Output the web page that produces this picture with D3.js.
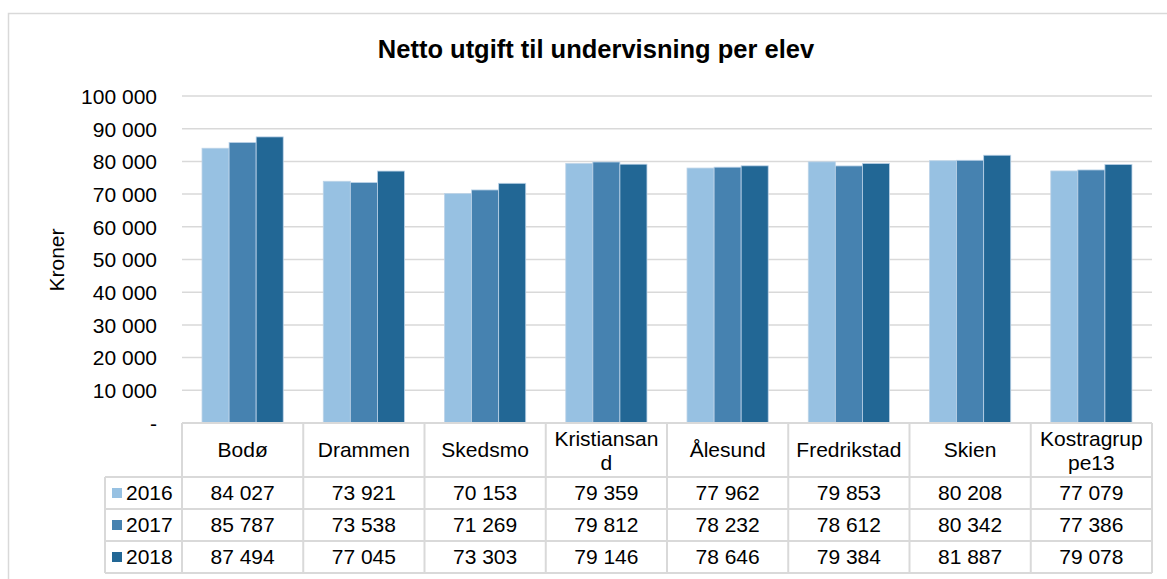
<!DOCTYPE html>
<html>
<head>
<meta charset="utf-8">
<script src="https://cdn.jsdelivr.net/npm/d3@7"></script>
<style>
  body { margin: 0; background: #fff; }
  svg { font-family: "Liberation Sans", Arial, sans-serif; }
</style>
</head>
<body>
<div id="chart"></div>
<script>
// data
var categories = ["Bodø", "Drammen", "Skedsmo", "Kristiansand", "Ålesund", "Fredrikstad", "Skien", "Kostragruppe13"];
var years = ["2016", "2017", "2018"];
var v2016 = [84027, 73921, 70153, 79359, 77962, 79853, 80208, 77079];
var v2017 = [85787, 73538, 71269, 79812, 78232, 78612, 80342, 77386];
var v2018 = [87494, 77045, 73303, 79146, 78646, 79384, 81887, 79078];
var yTicks = [0, 10000, 20000, 30000, 40000, 50000, 60000, 70000, 80000, 90000, 100000];

var series = [v2016, v2017, v2018];
var colors = ["#97c1e2", "#4682b0", "#226795"];

var width = 1167, height = 579;
var plotL = 182, plotR = 1152, plotT = 96, base = 423;
var legendLeft = 105;
var headH = 54, rowH = 32;
var gridColor = "#d9d9d9";
var fs = "21px";

var svg = d3.select("#chart").append("svg")
    .attr("width", width)
    .attr("height", height);

// outer frame
svg.append("rect")
    .attr("x", 8.5).attr("y", 13.5)
    .attr("width", width + 10).attr("height", height + 10)
    .attr("fill", "none")
    .attr("stroke", gridColor)
    .attr("stroke-width", 1.5);

svg.append("text")
    .attr("x", 596)
    .attr("y", 58)
    .attr("text-anchor", "middle")
    .style("font-size", "25.5px")
    .style("font-weight", "bold")
    .text("Netto utgift til undervisning per elev");

var y = d3.scaleLinear().domain([0, 100000]).range([base, plotT]);
var x0 = d3.scaleBand().domain(categories).range([plotL, plotR]);
var x1 = d3.scaleBand().domain(years).range([0, x0.bandwidth()]).paddingOuter(0.74).paddingInner(0);

var fmt = function(v){
    return v === 0 ? "-" : d3.format(",")(v).replace(/,/g, " ");
};

// gridlines
svg.append("g")
    .selectAll("line")
    .data(yTicks.filter(d => d > 0))
    .join("line")
    .attr("x1", plotL).attr("x2", plotR)
    .attr("y1", d => y(d)).attr("y2", d => y(d))
    .attr("stroke", gridColor)
    .attr("stroke-width", 1.5);

// y axis labels
var yAxis = d3.axisLeft(y).tickValues(yTicks).tickFormat(fmt).tickSize(0).tickPadding(0);
var ga = svg.append("g")
    .attr("transform", "translate(157,0)")
    .call(yAxis);
ga.select(".domain").remove();
ga.selectAll("text")
    .style("font-size", fs)
    .style("font-family", "Liberation Sans, Arial, sans-serif")
    .attr("fill", "#000")
    .attr("dy", "0.35em");

svg.append("text")
    .attr("transform", "translate(64,260) rotate(-90)")
    .attr("text-anchor", "middle")
    .style("font-size", fs)
    .text("Kroner");

// bars
years.forEach(function(yr, i){
    svg.append("g")
        .selectAll("rect")
        .data(series[i])
        .join("rect")
        .attr("x", (d, j) => x0(categories[j]) + x1(yr))
        .attr("y", d => y(d))
        .attr("width", x1.bandwidth())
        .attr("height", d => base - y(d))
        .attr("fill", colors[i])
        .attr("stroke", "#bcd3e8")
        .attr("stroke-width", 0.8);
});

// data table
var tbl = svg.append("g");
var tableBottom = base + headH + rowH * years.length;

tbl.append("line")
    .attr("x1", plotL).attr("x2", plotR)
    .attr("y1", base).attr("y2", base)
    .attr("stroke", gridColor).attr("stroke-width", 2);
d3.range(years.length + 1).forEach(function(r){
    var yy = base + headH + r * rowH;
    tbl.append("line")
        .attr("x1", legendLeft).attr("x2", plotR)
        .attr("y1", yy).attr("y2", yy)
        .attr("stroke", gridColor).attr("stroke-width", 2);
});
tbl.append("line")
    .attr("x1", legendLeft).attr("x2", legendLeft)
    .attr("y1", base + headH).attr("y2", tableBottom)
    .attr("stroke", gridColor).attr("stroke-width", 2);
categories.concat(["end"]).forEach(function(c, i){
    var xx = plotL + i * x0.bandwidth();
    tbl.append("line")
        .attr("x1", xx).attr("x2", xx)
        .attr("y1", base).attr("y2", tableBottom)
        .attr("stroke", gridColor).attr("stroke-width", 2);
});

// header labels, wrapped by character like the original
var maxW = 108;
categories.forEach(function(c){
    var cx = x0(c) + x0.bandwidth() / 2;
    var t = tbl.append("text")
        .attr("x", cx)
        .attr("text-anchor", "middle")
        .style("font-size", fs)
        .text(c);
    if (t.node().getComputedTextLength() > maxW) {
        var line1 = c;
        while (line1.length > 1) {
            line1 = line1.slice(0, -1);
            t.text(line1);
            if (t.node().getComputedTextLength() <= maxW) break;
        }
        var line2 = c.slice(line1.length);
        t.text(null);
        t.append("tspan").attr("x", cx).attr("y", base + headH / 2 - 4).text(line1);
        t.append("tspan").attr("x", cx).attr("y", base + headH / 2 + 20).text(line2);
    } else {
        t.attr("y", base + headH / 2 + 7);
    }
});

// rows
years.forEach(function(yr, i){
    var cy = base + headH + i * rowH + rowH / 2;
    tbl.append("rect")
        .attr("x", 112).attr("y", cy - 5)
        .attr("width", 10).attr("height", 10)
        .attr("fill", colors[i]);
    tbl.append("text")
        .attr("x", 126).attr("y", cy + 7)
        .style("font-size", fs)
        .text(yr);
    tbl.append("g")
        .selectAll("text")
        .data(series[i])
        .join("text")
        .attr("x", (d, j) => x0(categories[j]) + x0.bandwidth() / 2)
        .attr("y", cy + 7)
        .attr("text-anchor", "middle")
        .style("font-size", fs)
        .text(d => fmt(d));
});
</script>
</body>
</html>
